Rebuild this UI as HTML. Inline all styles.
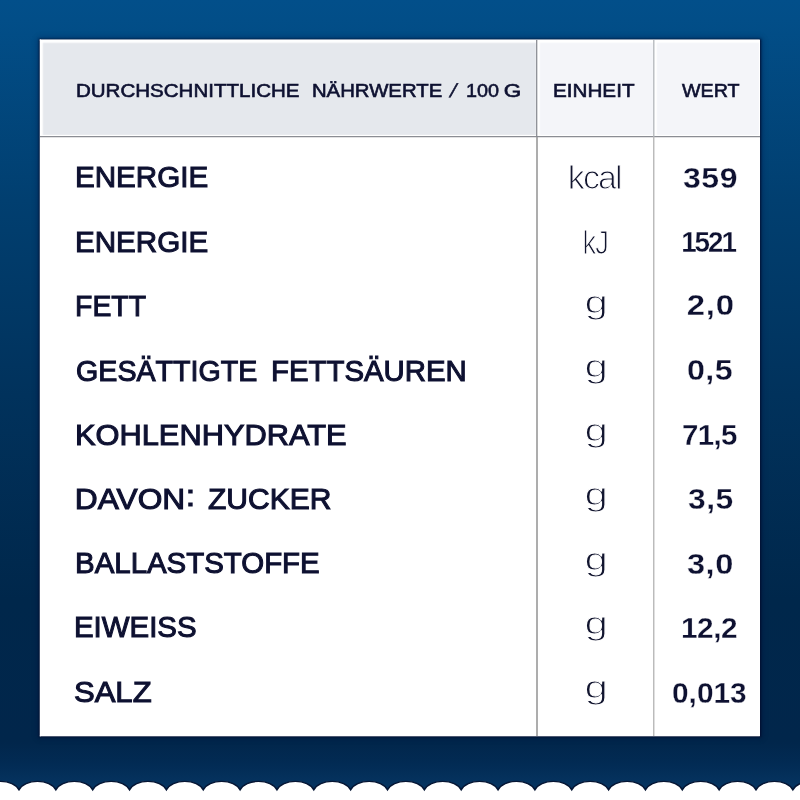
<!DOCTYPE html>
<html lang="de">
<head>
<meta charset="utf-8">
<title>Durchschnittliche Nährwerte</title>
<style>
html,body{margin:0;padding:0;}
body{width:800px;height:800px;overflow:hidden;position:relative;
background:linear-gradient(to bottom,#024f8a 0px,#024e88 20px,#013f70 200px,#01325c 395px,#00274b 600px,#01264b 742px,#022b54 764px,#05335f 784px,#05335f 800px);}
#card{position:absolute;left:40px;top:40px;width:720px;height:696px;background:#fff;
box-shadow:0 0 2px 1.3px rgba(4,8,42,.85),0 0 6px 2px rgba(0,10,50,.32);}
.hc{position:absolute;top:40px;height:96px;box-sizing:border-box;border:solid #fff;border-width:1.5px 1px 0.5px 1.5px;box-shadow:inset 1px 1px 1.5px 0.8px #fff;}
#h1{left:40px;width:497px;background:#e5e8ed;}
#h2{left:537px;width:117px;background:#f4f5f9;}
#h3{left:654px;width:106px;background:#f4f5f9;}
#lines,#wave{position:absolute;left:0;top:0;}
.t{position:absolute;white-space:nowrap;font-family:"Liberation Sans",sans-serif;}
.h{font-size:19.0px;line-height:19.0px;font-weight:normal;color:#0e1131;-webkit-text-stroke:0.6px #0e1131;}
.l{font-size:29.7px;line-height:29.7px;font-weight:normal;color:#0e1131;-webkit-text-stroke:1.05px #0e1131;}
.v{font-size:30.0px;line-height:30.0px;font-weight:bold;color:#0e1131;-webkit-text-stroke:0.3px #fff;}
.u{font-size:32.6px;line-height:32.6px;font-weight:normal;color:#12152f;-webkit-text-stroke:1.05px #fff;}
.g{font-size:32.2px;line-height:32.2px;font-weight:normal;color:#12152f;-webkit-text-stroke:1.0px #fff;}
</style>
</head>
<body>
<div id="card"></div>
<div class="hc" id="h1"></div><div class="hc" id="h2"></div><div class="hc" id="h3"></div>
<svg id="lines" width="800" height="800" viewBox="0 0 800 800">
<rect x="39.8" y="39.45" width="720" height="1.2" fill="#fff"/>
<rect x="39.75" y="39.45" width="1" height="696.9" fill="#fff"/>
<rect x="39.8" y="735.4" width="720" height="0.9" fill="#fff"/>
<line x1="40" y1="136.7" x2="760" y2="136.7" stroke="#8b8d93" stroke-width="1.3"/>
<line x1="536.7" y1="40" x2="536.7" y2="137" stroke="#888a90" stroke-width="1.25"/>
<line x1="537" y1="137" x2="537" y2="736" stroke="#999" stroke-width="1.6"/>
<line x1="653.8" y1="40" x2="653.8" y2="137" stroke="#b2b5ba" stroke-width="1.3"/>
<line x1="653.75" y1="137" x2="653.75" y2="736" stroke="#b8b8b8" stroke-width="1.4"/>
</svg>
<svg id="wave" width="800" height="800" viewBox="0 0 800 800">
<path d="M-17.85,789.8 A19.5,12.6 0 0 1 19.00,789.8 A19.5,12.6 0 0 1 55.85,789.8 A19.5,12.6 0 0 1 92.70,789.8 A19.5,12.6 0 0 1 129.55,789.8 A19.5,12.6 0 0 1 166.40,789.8 A19.5,12.6 0 0 1 203.25,789.8 A19.5,12.6 0 0 1 240.10,789.8 A19.5,12.6 0 0 1 276.95,789.8 A19.5,12.6 0 0 1 313.80,789.8 A19.5,12.6 0 0 1 350.65,789.8 A19.5,12.6 0 0 1 387.50,789.8 A19.5,12.6 0 0 1 424.35,789.8 A19.5,12.6 0 0 1 461.20,789.8 A19.5,12.6 0 0 1 498.05,789.8 A19.5,12.6 0 0 1 534.90,789.8 A19.5,12.6 0 0 1 571.75,789.8 A19.5,12.6 0 0 1 608.60,789.8 A19.5,12.6 0 0 1 645.45,789.8 A19.5,12.6 0 0 1 682.30,789.8 A19.5,12.6 0 0 1 719.15,789.8 A19.5,12.6 0 0 1 756.00,789.8 A19.5,12.6 0 0 1 792.85,789.8 A19.5,12.6 0 0 1 829.70,789.8 A19.5,12.6 0 0 1 866.55,789.8 L900,810 L-100,810 Z" fill="#fff" stroke="#061634" stroke-width="1.4"/>
</svg>
<div class="thead">
<div class="th th1">
<span class="t h" style="left:75.88px;top:80.57px;transform:scaleX(1.081);transform-origin:1.2px 84.65%">DURCHSCHNITTLICHE</span>
<span class="t h" style="left:312.18px;top:80.57px;transform:scaleX(1.070);transform-origin:1.2px 84.65%">NÄHRWERTE</span>
<span class="t h" style="left:449.45px;top:80.57px;transform:scaleX(0.999) skewX(-16deg);transform-origin:0.2px 84.65%">/</span>
<span class="t h" style="left:465.93px;top:80.57px;transform:scaleX(1.042);transform-origin:1.2px 84.65%">100</span>
<span class="t h" style="left:503.84px;top:80.57px;transform:scaleX(1.185);transform-origin:0.7px 84.65%">G</span>
</div>
<div class="th th2"><span class="t h" style="left:553.18px;top:80.57px;transform:scaleX(1.089);transform-origin:1.2px 84.65%">EINHEIT</span></div>
<div class="th th3"><span class="t h" style="left:681.92px;top:80.57px;transform:scaleX(1.037);transform-origin:0.1px 84.65%">WERT</span></div>
</div>
<div class="tbody">
<div class="tr">
<div class="td name">
<span class="t l" style="left:74.59px;top:162.36px;transform:scaleX(0.997);transform-origin:2.0px 84.65%">ENERGIE</span>
</div>
<div class="td unit"><span class="t u" style="left:568.40px;top:162.00px;letter-spacing:-1.80px;transform:scaleX(1.042);transform-origin:3.0px 84.65%">kcal</span></div>
<div class="td val"><span class="t v" style="left:683.21px;top:163.00px;letter-spacing:0.60px;transform:scaleX(1.067);transform-origin:1.4px 84.65%">359</span></div>
</div>
<div class="tr">
<div class="td name">
<span class="t l" style="left:74.59px;top:226.56px;transform:scaleX(0.997);transform-origin:2.0px 84.65%">ENERGIE</span>
</div>
<div class="td unit"><span class="t u" style="left:582.00px;top:226.60px;letter-spacing:-1.20px;transform:scaleX(0.840);transform-origin:3.0px 84.65%">kJ</span></div>
<div class="td val"><span class="t v" style="left:681.44px;top:227.00px;letter-spacing:-2.20px;transform:scaleX(0.927);transform-origin:2.1px 84.65%">1521</span></div>
</div>
<div class="tr">
<div class="td name">
<span class="t l" style="left:74.79px;top:291.21px;transform:scaleX(0.955);transform-origin:2.0px 84.65%">FETT</span>
</div>
<div class="td unit"><span class="t g" style="left:585.40px;top:285.69px;transform:scaleX(1.308);transform-origin:2.0px 84.65%">g</span></div>
<div class="td val"><span class="t v" style="left:686.70px;top:290.20px;letter-spacing:0.60px;transform:scaleX(1.097);transform-origin:1.3px 84.65%">2,0</span></div>
</div>
<div class="tr">
<div class="td name">
<span class="t l" style="left:75.80px;top:355.56px;transform:scaleX(0.964);transform-origin:1.0px 84.65%">GESÄTTIGTE</span>
<span class="t l" style="left:271.09px;top:355.56px;transform:scaleX(0.989);transform-origin:2.0px 84.65%">FETTSÄUREN</span>
</div>
<div class="td unit"><span class="t g" style="left:585.40px;top:350.04px;transform:scaleX(1.308);transform-origin:2.0px 84.65%">g</span></div>
<div class="td val"><span class="t v" style="left:687.29px;top:354.50px;letter-spacing:0.50px;transform:scaleX(1.075);transform-origin:1.5px 84.65%">0,5</span></div>
</div>
<div class="tr">
<div class="td name">
<span class="t l" style="left:74.89px;top:419.86px;transform:scaleX(1.038);transform-origin:2.0px 84.65%">KOHLENHYDRATE</span>
</div>
<div class="td unit"><span class="t g" style="left:585.40px;top:414.34px;transform:scaleX(1.308);transform-origin:2.0px 84.65%">g</span></div>
<div class="td val"><span class="t v" style="left:682.24px;top:419.50px;letter-spacing:-0.70px;transform:scaleX(0.982);transform-origin:1.6px 84.65%">71,5</span></div>
</div>
<div class="tr">
<div class="td name">
<span class="t l" style="left:74.88px;top:483.76px;transform:scaleX(1.067);transform-origin:2.0px 84.65%">DAVON</span>
<span class="t l" style="left:186.46px;top:480.86px;transform:scaleX(1.141);transform-origin:2.1px 84.65%">:</span>
<span class="t l" style="left:208.40px;top:483.76px;transform:scaleX(1.011);transform-origin:0.4px 84.65%">ZUCKER</span>
</div>
<div class="td unit"><span class="t g" style="left:585.40px;top:478.24px;transform:scaleX(1.308);transform-origin:2.0px 84.65%">g</span></div>
<div class="td val"><span class="t v" style="left:687.81px;top:483.50px;letter-spacing:0.50px;transform:scaleX(1.062);transform-origin:1.4px 84.65%">3,5</span></div>
</div>
<div class="tr">
<div class="td name">
<span class="t l" style="left:74.89px;top:548.06px;transform:scaleX(0.991);transform-origin:2.0px 84.65%">BALLASTSTOFFE</span>
</div>
<div class="td unit"><span class="t g" style="left:585.40px;top:542.54px;transform:scaleX(1.308);transform-origin:2.0px 84.65%">g</span></div>
<div class="td val"><span class="t v" style="left:687.21px;top:548.50px;letter-spacing:0.50px;transform:scaleX(1.086);transform-origin:1.4px 84.65%">3,0</span></div>
</div>
<div class="tr">
<div class="td name">
<span class="t l" style="left:74.49px;top:612.36px;transform:scaleX(0.990);transform-origin:2.0px 84.65%">EIWEISS</span>
</div>
<div class="td unit"><span class="t g" style="left:585.40px;top:606.84px;transform:scaleX(1.308);transform-origin:2.0px 84.65%">g</span></div>
<div class="td val"><span class="t v" style="left:681.24px;top:613.25px;letter-spacing:-0.50px;transform:scaleX(0.993);transform-origin:2.1px 84.65%">12,2</span></div>
</div>
<div class="tr">
<div class="td name">
<span class="t l" style="left:74.12px;top:676.86px;transform:scaleX(1.046);transform-origin:1.1px 84.65%">SALZ</span>
</div>
<div class="td unit"><span class="t g" style="left:585.40px;top:671.34px;transform:scaleX(1.308);transform-origin:2.0px 84.65%">g</span></div>
<div class="td val"><span class="t v" style="left:672.29px;top:677.61px;transform:scaleX(0.994);transform-origin:1.5px 84.65%">0,013</span></div>
</div>
</div>
</body>
</html>
